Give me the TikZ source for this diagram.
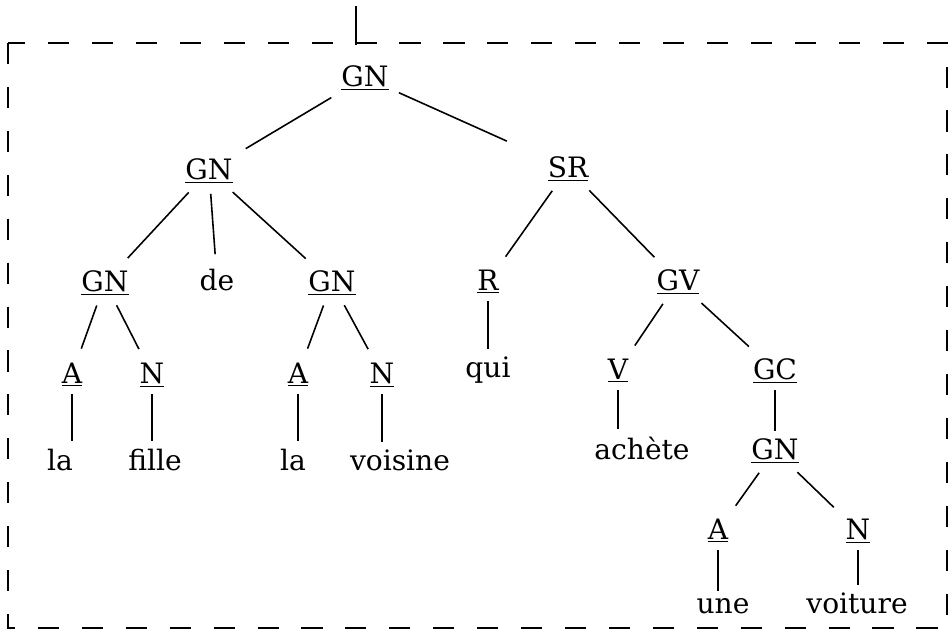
\documentclass[tikz,border=0pt]{standalone}
\usepackage{fontspec}
\setmainfont{DejaVu Serif}
\newcommand{\synt}[1]{\underline{#1}}
\begin{document}
\begin{tikzpicture}[x=0.02cm,y=-0.02cm,
  every node/.style={font=\fontsize{16}{19}\selectfont,inner sep=3pt,anchor=base},
  branch/.style={line width=0.9pt,shorten <=3pt,shorten >=5pt},
  stem/.style={line width=0.9pt,shorten <=1pt,shorten >=1pt}]
 \useasboundingbox (0,0) rectangle (950,632);
 \draw[line width=1.3pt,dash pattern=on 12pt off 13pt](8,43) rectangle (947,628);
 \coordinate (stemtop) at (356,6);
 \coordinate (stembot) at (356,45);
 \draw[line width=0.9pt](stemtop)--(stembot);
 % categories
 \node (root) at (365,86) {\synt{GN}};
 \node (gnL) at (209,179) {\synt{GN}};
 \node (sr) at (568,177) {\synt{SR}};
 \node (gnLL) at (105,291) {\synt{GN}};
 \node (de) at (217,290) {de};
 \node (gnLR) at (332,291) {\synt{GN}};
 \node (r) at (488,290) {\synt{R}};
 \node (gv) at (678,290) {\synt{GV}};
 \node (aL) at (72,383) {\synt{A}};
 \node (nL) at (152,383) {\synt{N}};
 \node (aR) at (298,383) {\synt{A}};
 \node (nR) at (382,383) {\synt{N}};
 \node (qui) at (488,377) {qui};
 \node (v) at (618,379) {\synt{V}};
 \node (gc) at (775,379) {\synt{GC}};
 \node (gnB) at (775,459) {\synt{GN}};
 \node (aB) at (718,539) {\synt{A}};
 \node (nB) at (858,539) {\synt{N}};
 % words
 \node (la1) at (60,470) {la};
 \node (fille) at (155,470) {fille};
 \node (la2) at (293,470) {la};
 \node (voisine) at (400,470) {voisine};
 \node (achete) at (642,459) {achète};
 \node (une) at (723,613) {une};
 \node (voiture) at (857,613) {voiture};
 % branches
 \draw[branch](root)--(gnL);
 \draw[branch,shorten >=22pt](root)--(sr);
 \draw[branch](gnL)--(gnLL);
 \draw[branch](gnL)--(de);
 \draw[branch](gnL)--(gnLR);
 \draw[branch](sr)--(r);
 \draw[branch](sr)--(gv);
 \draw[branch](gnLL)--(aL);
 \draw[branch](gnLL)--(nL);
 \draw[branch](gnLR)--(aR);
 \draw[branch](gnLR)--(nR);
 \draw[stem](r)--(r|-qui.north);
 \draw[branch](gv)--(v);
 \draw[branch](gv)--(gc);
 \draw[stem](aL)--(aL|-la1.north);
 \draw[stem](nL)--(nL|-fille.north);
 \draw[stem](aR)--(aR|-la2.north);
 \draw[stem](nR)--(nR|-voisine.north);
 \draw[stem](v)--(v|-achete.north);
 \draw[stem](gc)--(gnB);
 \draw[branch](gnB)--(aB);
 \draw[branch](gnB)--(nB);
 \draw[stem](aB)--(aB|-une.north);
 \draw[stem](nB)--(nB|-voiture.north);
\end{tikzpicture}
\end{document}
